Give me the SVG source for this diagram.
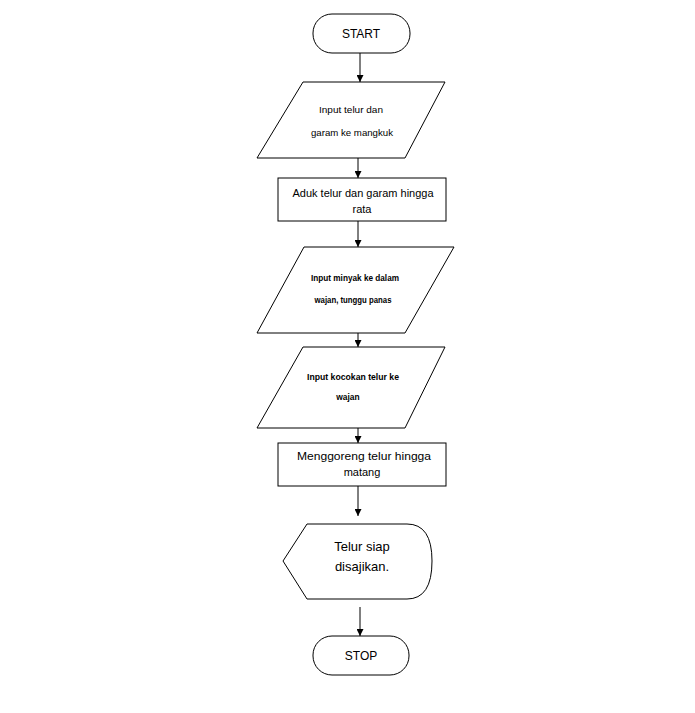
<svg xmlns="http://www.w3.org/2000/svg" width="695" height="713" viewBox="0 0 695 713">
<defs>
<marker id="ah" viewBox="0 0 10 10" refX="10" refY="5" markerWidth="7" markerHeight="7" orient="auto" markerUnits="userSpaceOnUse">
<path d="M0,0 L10,5 L0,10 z" fill="#000"/>
</marker>
<style>
.s{fill:#fff;stroke:#000;stroke-width:1}
.c{stroke:#000;stroke-width:1;fill:none;marker-end:url(#ah)}
text{font-family:"Liberation Sans","Open Sans",Arial,sans-serif;fill:#000;text-anchor:middle}
.l{font-size:12px}
.m{font-size:11px}
.sm{font-size:9.6px}
.xs{font-size:8.4px;font-weight:bold}
.d{font-size:13px}
</style>
</defs>
<rect width="695" height="713" fill="#fff"/>
<g id="connectors">
<line class="c" x1="360" y1="53" x2="360" y2="82"/>
<line class="c" x1="358" y1="158" x2="358" y2="178"/>
<line class="c" x1="358" y1="221" x2="358" y2="247"/>
<line class="c" x1="358" y1="333" x2="358" y2="347"/>
<line class="c" x1="358" y1="428" x2="358" y2="443"/>
<line class="c" x1="358" y1="486" x2="358" y2="516"/>
<line class="c" x1="360" y1="607" x2="360" y2="636"/>
</g>
<g id="start">
<rect class="s" x="313" y="14" width="97" height="39" rx="19" ry="19"/>
<text class="l" x="361" y="38">START</text>
</g>
<g id="input1">
<polygon class="s" points="303,82 445,82 405,158 257,158"/>
<text class="sm" x="351" y="113" textLength="64" lengthAdjust="spacingAndGlyphs">Input telur dan</text>
<text class="sm" x="352" y="136" textLength="82" lengthAdjust="spacingAndGlyphs">garam ke mangkuk</text>
</g>
<g id="aduk">
<rect class="s" x="278" y="178" width="168" height="43"/>
<text class="m" x="363" y="197" textLength="141" lengthAdjust="spacingAndGlyphs">Aduk telur dan garam hingga</text>
<text class="m" x="362" y="213">rata</text>
</g>
<g id="input2">
<polygon class="s" points="304,247 454,247 405,333 257,333"/>
<text class="xs" x="355" y="281" textLength="88" lengthAdjust="spacingAndGlyphs">Input minyak ke dalam</text>
<text class="xs" x="353" y="303" textLength="77" lengthAdjust="spacingAndGlyphs">wajan, tunggu panas</text>
</g>
<g id="input3">
<polygon class="s" points="303,347 445,347 405,428 257,428"/>
<text class="xs" x="353" y="380" textLength="92" lengthAdjust="spacingAndGlyphs">Input kocokan telur ke</text>
<text class="xs" x="348" y="400">wajan</text>
</g>
<g id="goreng">
<rect class="s" x="278" y="443" width="168" height="43"/>
<text class="m" x="364" y="460" textLength="134" lengthAdjust="spacingAndGlyphs">Menggoreng telur hingga</text>
<text class="m" x="362" y="476">matang</text>
</g>
<g id="display">
<path class="s" d="M307,524 L407,524 Q432,524 432,561 Q432,599 407,599 L307,599 L283,561 Z"/>
<text class="d" x="362" y="551">Telur siap</text>
<text class="d" x="362" y="571">disajikan.</text>
</g>
<g id="stop">
<rect class="s" x="313" y="636" width="96" height="39" rx="19" ry="19"/>
<text class="l" x="361" y="660">STOP</text>
</g>
</svg>
